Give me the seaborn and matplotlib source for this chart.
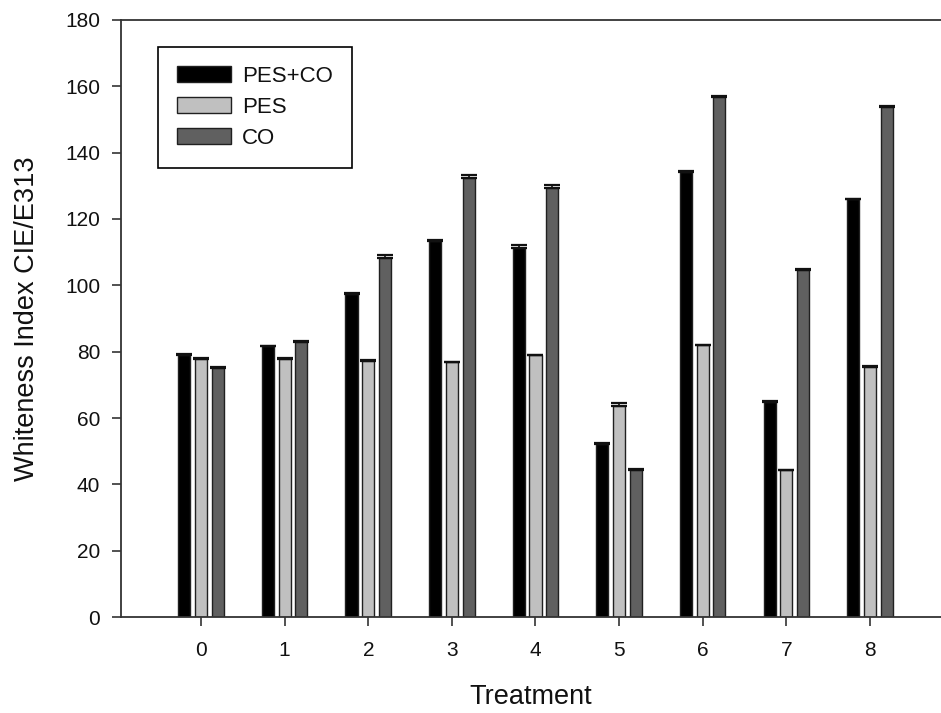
import seaborn as sns
import matplotlib.pyplot as plt
import pandas as pd

# values
treatments = ['0', '1', '2', '3', '4', '5', '6', '7', '8']
fibres = ['PES+CO', 'PES', 'CO']
pes_co = [79.0, 81.6, 97.4, 113.5, 111.2, 52.2, 134.2, 64.9, 125.9]
pes = [77.8, 77.8, 77.3, 76.8, 78.9, 63.5, 81.9, 44.2, 75.5]
co = [75.2, 83.0, 108.1, 132.4, 129.2, 44.3, 156.9, 104.7, 153.9]
pes_co_err = [0.2, 0.2, 0.2, 0.2, 0.9, 0.2, 0.2, 0.2, 0.2]
pes_err = [0.2, 0.2, 0.2, 0.2, 0.2, 1.0, 0.2, 0.2, 0.2]
co_err = [0.2, 0.2, 0.9, 1.0, 0.9, 0.2, 0.2, 0.2, 0.2]

colors = ['#000000', '#c0c0c0', '#606060']

df = pd.DataFrame({
    'Treatment': treatments * 3,
    'Fibre': [f for f in fibres for _ in treatments],
    'Whiteness': pes_co + pes + co,
})
errs = [pes_co_err, pes_err, co_err]

sns.set_style('ticks')
plt.rcParams['font.family'] = ['Liberation Sans', 'DejaVu Sans']
plt.rcParams['text.color'] = '#111111'
plt.rcParams['axes.labelcolor'] = '#111111'
plt.rcParams['xtick.labelcolor'] = '#111111'
plt.rcParams['ytick.labelcolor'] = '#111111'

fig = plt.figure(figsize=(9.41, 7.13), dpi=100)
ax = fig.add_axes([0.1286, 0.1346, 0.8714, 0.8374])

sns.barplot(data=df, x='Treatment', y='Whiteness', hue='Fibre', order=treatments,
            hue_order=fibres, palette=colors, width=0.6, gap=0.275,
            edgecolor='#202020', linewidth=1.0, errorbar=None, ax=ax)

# upper-only error bars at the bar tops
for cont, e in zip(ax.containers, errs):
    xs = [b.get_x() + b.get_width() / 2 for b in cont]
    ys = [b.get_height() for b in cont]
    ax.errorbar(xs, ys, yerr=[[0] * len(e), e], fmt='none', ecolor='#111111',
                elinewidth=1.2, capsize=5.5, capthick=1.6, zorder=3)

ax.set_xlim(-0.957, 8.85)
ax.set_ylim(0, 180)
ax.set_yticks(range(0, 181, 20))
ax.set_xlabel('Treatment', fontsize=19.5, labelpad=17)
ax.set_ylabel('Whiteness Index CIE/E313', fontsize=19.5, labelpad=18)
ax.tick_params(axis='both', labelsize=15, length=6.5, width=1.1, color='#222222',
               direction='out', pad=8.5)
ax.tick_params(axis='x', pad=11)

ax.spines['right'].set_visible(False)
for s in ['left', 'bottom', 'top']:
    ax.spines[s].set_color('#333333')
    ax.spines[s].set_linewidth(1.3)

leg = ax.legend(loc='upper left', bbox_to_anchor=(0.045, 0.955), fontsize=16,
                frameon=True, fancybox=False, framealpha=1, edgecolor='black',
                handlelength=2.45, handleheight=0.77, labelspacing=0.45,
                handletextpad=0.5, borderpad=0.85, borderaxespad=0)
leg.get_frame().set_linewidth(1.2)

plt.savefig('out.png', dpi=100)
